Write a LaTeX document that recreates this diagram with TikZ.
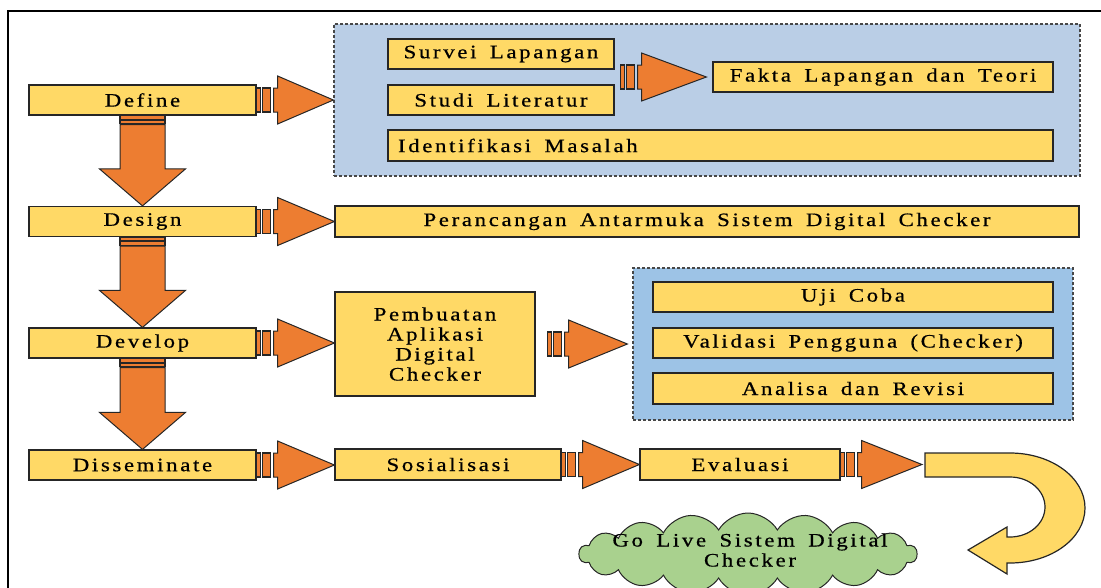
\documentclass[tikz,border=0pt]{standalone}
\usepackage{fontspec}
\setmainfont{Liberation Serif}
\newfontfamily\boxfont[LetterSpace=14, FakeStretch=1.2, WordSpace=1.6, FakeBold=0.6]{Liberation Serif}
\usetikzlibrary{calc,shapes.symbols}

\definecolor{boxyellow}{HTML}{FFD966}
\definecolor{blockorange}{HTML}{ED7D31}
\definecolor{paleblue}{HTML}{BACEE6}
\definecolor{midblue}{HTML}{9DC3E6}
\definecolor{cloudgreen}{HTML}{A9D18E}
\definecolor{edge}{HTML}{262626}

% striped block arrow to the right: #1 start, #2 where the tip goes
\newcommand{\sidearrow}[2]{%
  \draw[stripe] ($(#1)+(0,-12)$) rectangle ($(#1)+(4,12)$);
  \draw[stripe] ($(#1)+(6,-12)$) rectangle ($(#1)+(14,12)$);
  \draw[blockarrow] ($(#1)+(17,-12)$) -- ($(#1)+(21,-12)$) -- ($(#1)+(21,-24)$)
    -- (#1 -| #2) -- ($(#1)+(21,24)$) -- ($(#1)+(21,12)$) -- ($(#1)+(17,12)$) -- cycle;
}
% striped block arrow downwards
\newcommand{\downarrowblk}[2]{%
  \draw[stripe] ($(#1)+(-22.5,0)$) rectangle ($(#1)+(22.5,3.5)$);
  \draw[stripe] ($(#1)+(-22.5,4.5)$) rectangle ($(#1)+(22.5,8)$);
  \draw[blockarrow] ($(#1)+(-22.5,9)$) -- ($(#1)+(22.5,9)$) -- ($(#1 |- #2)+(22.5,-37)$)
    -- ($(#1 |- #2)+(43,-37)$) -- (#1 |- #2) -- ($(#1 |- #2)+(-43,-37)$)
    -- ($(#1 |- #2)+(-22.5,-37)$) -- cycle;
}

\begin{document}
\begin{tikzpicture}[x=1pt, y=-1pt,
  box/.style={draw=edge, line width=1.2pt, fill=boxyellow, inner sep=0pt,
    minimum height=30pt, text=black, font={\boxfont\fontsize{19pt}{20pt}\selectfont}},
  stage/.style={box, minimum width=227pt},
  group/.style={draw=edge!85, dash pattern=on 3pt off 2pt, line width=1.2pt, inner sep=0pt},
  stripe/.style={draw=edge, line width=1.2pt, fill=blockorange},
  blockarrow/.style={draw=edge, line width=1pt, fill=blockorange, line join=miter}]
\useasboundingbox (0,0) rectangle (1101,587);
\draw[line width=1.5pt] (8,600) -- (8,11) -- (1110,11);

% stages
\node[stage] (define) at (142.5,100) {Define};
\node[stage] (design) at (142.5,221.5) {Design};
\node[stage] (develop) at (142.5,343) {Develop};
\node[stage] (disseminate) at (142.5,465) {Disseminate};

\downarrowblk{define.south}{design.north}
\downarrowblk{design.south}{develop.north}
\downarrowblk{develop.south}{disseminate.north}

% Define
\node[group, fill=paleblue, minimum width=746pt, minimum height=152pt] (defbox) at (707,100) {};
\node[box, minimum width=226pt] (survei) at (501,54) {Survei Lapangan};
\node[box, minimum width=226pt] (studi) at (501,100) {Studi Literatur};
\node[box, minimum width=340pt] (fakta) at (883,77) {Fakta Lapangan dan Teori};
\node[box, inner xsep=10pt, minimum height=31pt] (identifikasi) at (720.5,145.5) {\makebox[645pt][l]{Identifikasi Masalah}};
\coordinate (litsrc) at ($(survei.east)!0.5!(studi.east)+(6,0)$);
\coordinate (litdst) at ([xshift=-6pt]fakta.west);
\sidearrow{litsrc}{litdst}
\sidearrow{define.east}{defbox.west}

% Design
\node[box, minimum width=744pt, minimum height=31pt] (perancangan) at (707,221.5) {Perancangan Antarmuka Sistem Digital Checker};
\sidearrow{design.east}{perancangan.west}

% Develop
\node[box, minimum width=200pt, minimum height=104pt, align=center] (pembuatan) at (435,344) {Pembuatan\\Aplikasi\\Digital\\Checker};
\node[group, fill=midblue, minimum width=440pt, minimum height=152pt] (devbox) at (853,344) {};
\node[box, minimum width=400pt] (ujicoba) at (853,297) {Uji Coba};
\node[box, minimum width=400pt] (validasi) at (853,343) {Validasi Pengguna (Checker)};
\node[box, minimum width=400pt, minimum height=31pt] (analisa) at (853,388.5) {Analisa dan Revisi};
\sidearrow{develop.east}{pembuatan.west}
\coordinate (devsrc) at ([xshift=12pt]pembuatan.east);
\coordinate (devdst) at ([xshift=-5pt]devbox.west);
\sidearrow{devsrc}{devdst}

% Disseminate
\node[box, minimum width=226pt, minimum height=31pt] (sosialisasi) at (448,464.5) {Sosialisasi};
\node[box, minimum width=200pt, minimum height=31pt] (evaluasi) at (740,464.5) {Evaluasi};
\coordinate (uturn) at (922,464.5);
\sidearrow{disseminate.east}{sosialisasi.west}
\sidearrow{sosialisasi.east}{evaluasi.west}
\sidearrow{evaluasi.east}{uturn}

% turn back to the cloud
\draw[draw=edge, line width=1.2pt, fill=boxyellow]
  (925,453) -- (1010,453) arc[start angle=-90, end angle=90, x radius=75, y radius=55]
  -- (1007,563) -- (1007,574) -- (968,550) -- (1007,527) -- (1007,537) -- (1010,537)
  arc[start angle=90, end angle=-90, x radius=35, y radius=30] -- (925,477) -- cycle;

% Go live
\node[cloud, cloud puffs=18, cloud puff arc=120, cloud ignores aspect,
  minimum width=338pt, minimum height=82pt, draw=edge, line width=1pt, fill=cloudgreen]
  (golive) at (748,554) {};
\node[align=center, text=black, inner sep=0pt, font={\boxfont\fontsize{19pt}{20pt}\selectfont}]
  (golivetext) at (750,550) {Go Live Sistem Digital\\Checker};
\end{tikzpicture}
\end{document}
